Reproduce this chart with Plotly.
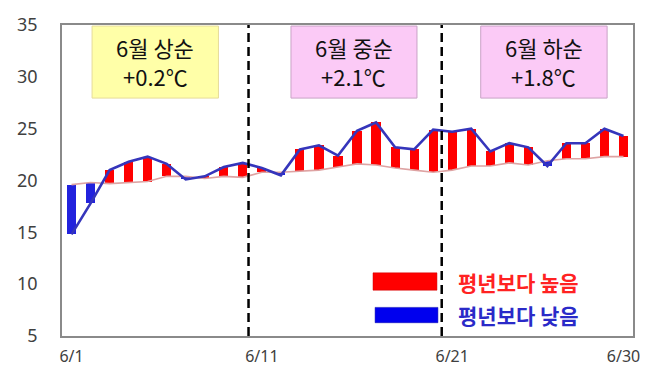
import plotly.graph_objects as go

# June daily mean temperature vs. climatological normal (°C)
days = list(range(1, 31))
actual = [14.8, 17.8, 21.0, 21.8, 22.3, 21.6, 20.1, 20.4, 21.3, 21.7,
          21.2, 20.5, 23.0, 23.4, 22.4, 24.8, 25.6, 23.2, 23.0, 24.9,
          24.7, 25.0, 22.8, 23.6, 23.2, 21.4, 23.6, 23.6, 25.0, 24.3]
normal = [19.6, 19.8, 19.7, 19.8, 19.9, 20.4, 20.4, 20.2, 20.4, 20.3,
          20.8, 20.8, 20.9, 21.0, 21.3, 21.6, 21.5, 21.2, 21.0, 20.8,
          21.0, 21.4, 21.4, 21.7, 21.5, 21.9, 22.1, 22.1, 22.3, 22.3]

x_tickvals = [1, 11, 21, 30]
x_ticktext = ["6/1", "6/11", "6/21", "6/30"]
y_tickvals = [5, 10, 15, 20, 25, 30, 35]

period_titles = ["6월 상순", "6월 중순", "6월 하순"]
period_anoms = ["+0.2℃", "+2.1℃", "+1.8℃"]
legend_labels = ["평년보다 높음", "평년보다 낮음"]

RED = "#ff0000"
BLUE = "#2222dd"
LINE_BLUE = "#3535bb"
NORMAL_PINK = "#dea3a3"
KFONT = "Noto Sans CJK KR"

diff = [a - n for a, n in zip(actual, normal)]
colors = [RED if d >= 0 else BLUE for d in diff]

fig = go.Figure()

# anomaly bars between the normal and the observed value
fig.add_trace(go.Bar(
    x=days, y=diff, base=normal, width=0.48,
    marker=dict(color=colors, line=dict(width=0)),
    hoverinfo="skip",
))
# climatological normal
fig.add_trace(go.Scatter(
    x=days, y=normal, mode="lines",
    line=dict(color=NORMAL_PINK, width=1.6),
))
# observed daily mean
fig.add_trace(go.Scatter(
    x=days, y=actual, mode="lines",
    line=dict(color=LINE_BLUE, width=2.6),
))

shapes = []
annotations = []

# dekad separators
for xv in (10.3, 20.45):
    shapes.append(dict(type="line", xref="x", yref="y", x0=xv, x1=xv, y0=5, y1=35,
                       line=dict(color="black", width=2.5, dash="9px,5px")))

# dekad summary boxes
boxes = [(2.08, 8.72, "#ffffa8", "#e6dc9a"),
         (12.53, 19.15, "#fbcaf6", "#c9a2c6"),
         (22.5, 29.14, "#fbcaf6", "#c9a2c6")]
for (x0, x1, fill, edge), title, anom in zip(boxes, period_titles, period_anoms):
    shapes.append(dict(type="rect", xref="x", yref="y", x0=x0, x1=x1, y0=27.95, y1=34.9,
                       fillcolor=fill, line=dict(color=edge, width=1), layer="above"))
    xc = (x0 + x1) / 2
    annotations.append(dict(x=xc, y=32.9, xref="x", yref="y", text=title, showarrow=False,
                            font=dict(family=KFONT, size=22, color="#111111")))
    annotations.append(dict(x=xc, y=30.1, xref="x", yref="y", text=anom, showarrow=False,
                            font=dict(family=KFONT, size=22, color="#111111")))

# legend swatches and labels
shapes.append(dict(type="rect", xref="x", yref="y", x0=16.84, x1=20.2, y0=9.42, y1=11.09,
                   fillcolor=RED, line=dict(color="#cc0000", width=0.5), layer="above"))
shapes.append(dict(type="rect", xref="x", yref="y", x0=16.95, x1=20.25, y0=6.28, y1=7.76,
                   fillcolor="#0000ee", line=dict(color="#0000aa", width=0.5), layer="above"))
annotations.append(dict(x=21.2, y=10.25, xref="x", yref="y", text=legend_labels[0],
                        showarrow=False, xanchor="left",
                        font=dict(family=KFONT, size=21, color="#ff2222", weight="bold")))
annotations.append(dict(x=21.2, y=7.0, xref="x", yref="y", text=legend_labels[1],
                        showarrow=False, xanchor="left",
                        font=dict(family=KFONT, size=21, color="#2a2ac8", weight="bold")))

fig.update_layout(
    width=652, height=379,
    margin=dict(l=62, r=19, t=14, b=40),
    paper_bgcolor="white", plot_bgcolor="white",
    showlegend=False,
    bargap=0,
    shapes=shapes,
    annotations=annotations,
    xaxis=dict(range=[0.5, 30.5], tickvals=x_tickvals, ticktext=x_ticktext,
               showgrid=False, zeroline=False, showline=True, mirror=True,
               linecolor="#8a8a8a", linewidth=1.5, ticks="",
               ticklabelstandoff=5,
               tickfont=dict(family="Noto Sans", size=16, color="#404040")),
    yaxis=dict(range=[5, 35], tickvals=y_tickvals,
               showgrid=False, zeroline=False, showline=True, mirror=True,
               linecolor="#8a8a8a", linewidth=1.5, ticks="",
               ticklabelstandoff=19,
               tickfont=dict(family="Noto Sans", size=18, color="#404040")),
)

fig.write_html("out.html")
